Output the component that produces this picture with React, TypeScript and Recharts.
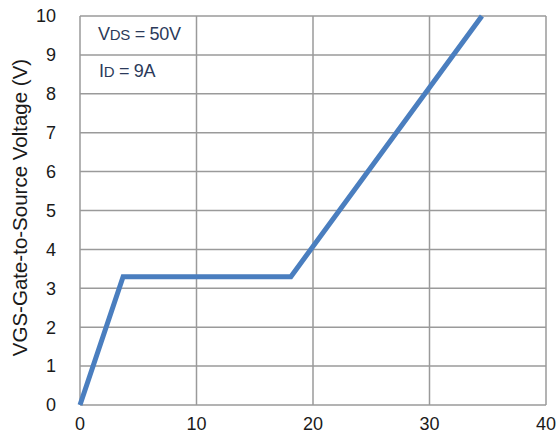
import { LineChart, Line, XAxis, YAxis, CartesianGrid, Label } from "recharts";

const gateCharge = [0, 3.7, 18.1, 34.5];
const gateVoltage = [0, 3.3, 3.3, 10];
const xTicks = [0, 10, 20, 30, 40];
const yTicks = [0, 1, 2, 3, 4, 5, 6, 7, 8, 9, 10];

const data = gateCharge.map((q, i) => ({ q, vgs: gateVoltage[i] }));

const font = "'Liberation Sans', Arial, sans-serif";

export default function App() {
  return (
    <div style={{ position: "absolute", left: 0, top: 0, width: 560, height: 443, background: "#fff", fontFamily: font }}>
      <LineChart width={560} height={443} data={data} margin={{ top: 16, right: 14, bottom: 8, left: 0 }}>
        <CartesianGrid stroke="#9a9a9a" strokeWidth={1.5} />
        <XAxis
          dataKey="q"
          type="number"
          domain={[0, 40]}
          ticks={xTicks}
          axisLine={false}
          tickLine={false}
          height={30}
          tickMargin={6}
          tick={{ fill: "#1a1a1a", fontSize: 18, fontFamily: font }}
        />
        <YAxis
          type="number"
          domain={[0, 10]}
          ticks={yTicks}
          axisLine={false}
          tickLine={false}
          width={80}
          tickMargin={18}
          tick={{ fill: "#1a1a1a", fontSize: 18, fontFamily: font }}
        >
          <Label
            value="VGS-Gate-to-Source Voltage (V)"
            angle={-90}
            position="insideLeft"
            offset={20}
            dy={-3}
            style={{ textAnchor: "middle", fill: "#1a1a1a", fontSize: 20.5, fontFamily: font }}
          />
        </YAxis>
        <Line type="linear" dataKey="vgs" stroke="#4a7ebf" strokeWidth={5} dot={false} isAnimationActive={false} />
      </LineChart>
      <div style={{ position: "absolute", left: 98, top: 24, color: "#2b3a5a", fontSize: 18, letterSpacing: -0.3 }}>
        V<span style={{ fontSize: 15 }}>DS</span> = 50V
      </div>
      <div style={{ position: "absolute", left: 99, top: 61, color: "#2b3a5a", fontSize: 18, letterSpacing: -0.3 }}>
        I<span style={{ fontSize: 15 }}>D</span> = 9A
      </div>
    </div>
  );
}
